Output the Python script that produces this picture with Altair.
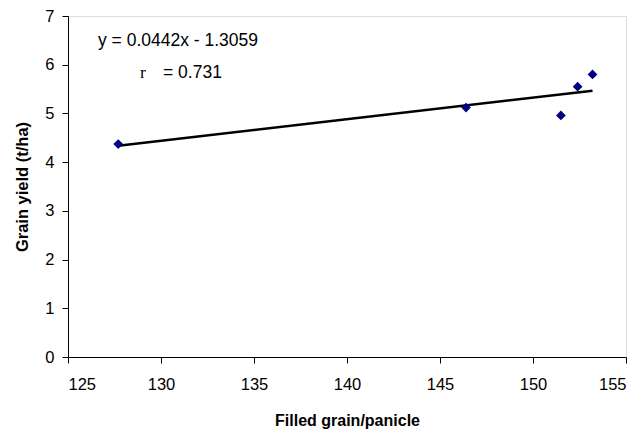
import altair as alt
import pandas as pd

filled_grain = [127.7, 146.4, 151.5, 152.4, 153.2]
grain_yield = [4.37, 5.12, 4.96, 5.55, 5.80]
slope = 0.0442
intercept = -1.3059
eq_label = "y = 0.0442x - 1.3059"
r_symbol = "r"
r_value = "= 0.731"
x_ticks = [125, 130, 135, 140, 145, 150, 155]
y_ticks = [0, 1, 2, 3, 4, 5, 6, 7]

pts = pd.DataFrame({"x": filled_grain, "y": grain_yield})
xmin, xmax = min(filled_grain), max(filled_grain)
line_df = pd.DataFrame({"x": [xmin, xmax],
                        "y": [slope * xmin + intercept, slope * xmax + intercept]})

font = "Liberation Sans"
xs = alt.Scale(domain=[125, 155], nice=False, zero=False)
ys = alt.Scale(domain=[0, 7], nice=False)

xax = alt.Axis(values=x_ticks, title="Filled grain/panicle", grid=False,
               tickSize=6, labelPadding=13, titlePadding=20,
               labelFontSize=16.5, titleFontSize=16, titleFontWeight="bold",
               labelFont=font, titleFont=font, domainColor="black", tickColor="black",
               labelColor="black", titleColor="black")
yax = alt.Axis(values=y_ticks, title="Grain yield (t/ha)", grid=False,
               tickSize=6, labelPadding=8, titlePadding=14,
               labelFontSize=16.5, titleFontSize=16.5, titleFontWeight="bold",
               labelFont=font, titleFont=font, domainColor="black", tickColor="black",
               labelColor="black", titleColor="black")

points = alt.Chart(pts).mark_point(shape="diamond", filled=True, color="#000080",
                                   size=95, opacity=1).encode(
    x=alt.X("x:Q", scale=xs, axis=xax),
    y=alt.Y("y:Q", scale=ys, axis=yax),
)

line = alt.Chart(line_df).mark_line(color="black", strokeWidth=2.5).encode(
    x=alt.X("x:Q", scale=xs),
    y=alt.Y("y:Q", scale=ys),
)

eq = alt.Chart(pd.DataFrame({"t": [eq_label]})).mark_text(
    align="left", baseline="middle", font=font, fontSize=17.5, color="black"
).encode(x=alt.value(30), y=alt.value(25), text="t:N")

rs = alt.Chart(pd.DataFrame({"t": [r_symbol]})).mark_text(
    align="left", baseline="middle", font="Liberation Serif", fontSize=17.5, color="black"
).encode(x=alt.value(72), y=alt.value(57), text="t:N")

rv = alt.Chart(pd.DataFrame({"t": [r_value]})).mark_text(
    align="left", baseline="middle", font=font, fontSize=17.5, color="black"
).encode(x=alt.value(95), y=alt.value(57), text="t:N")

chart = alt.layer(line, points, eq, rs, rv).properties(
    width=558, height=341,
    autosize=alt.AutoSizeParams(type="none"),
    padding={"left": 60, "top": 8, "right": 10, "bottom": 75},
).configure_view(stroke=None).configure(background="white")

chart.save("out.html", embed_options={"renderer": "svg", "actions": False})
